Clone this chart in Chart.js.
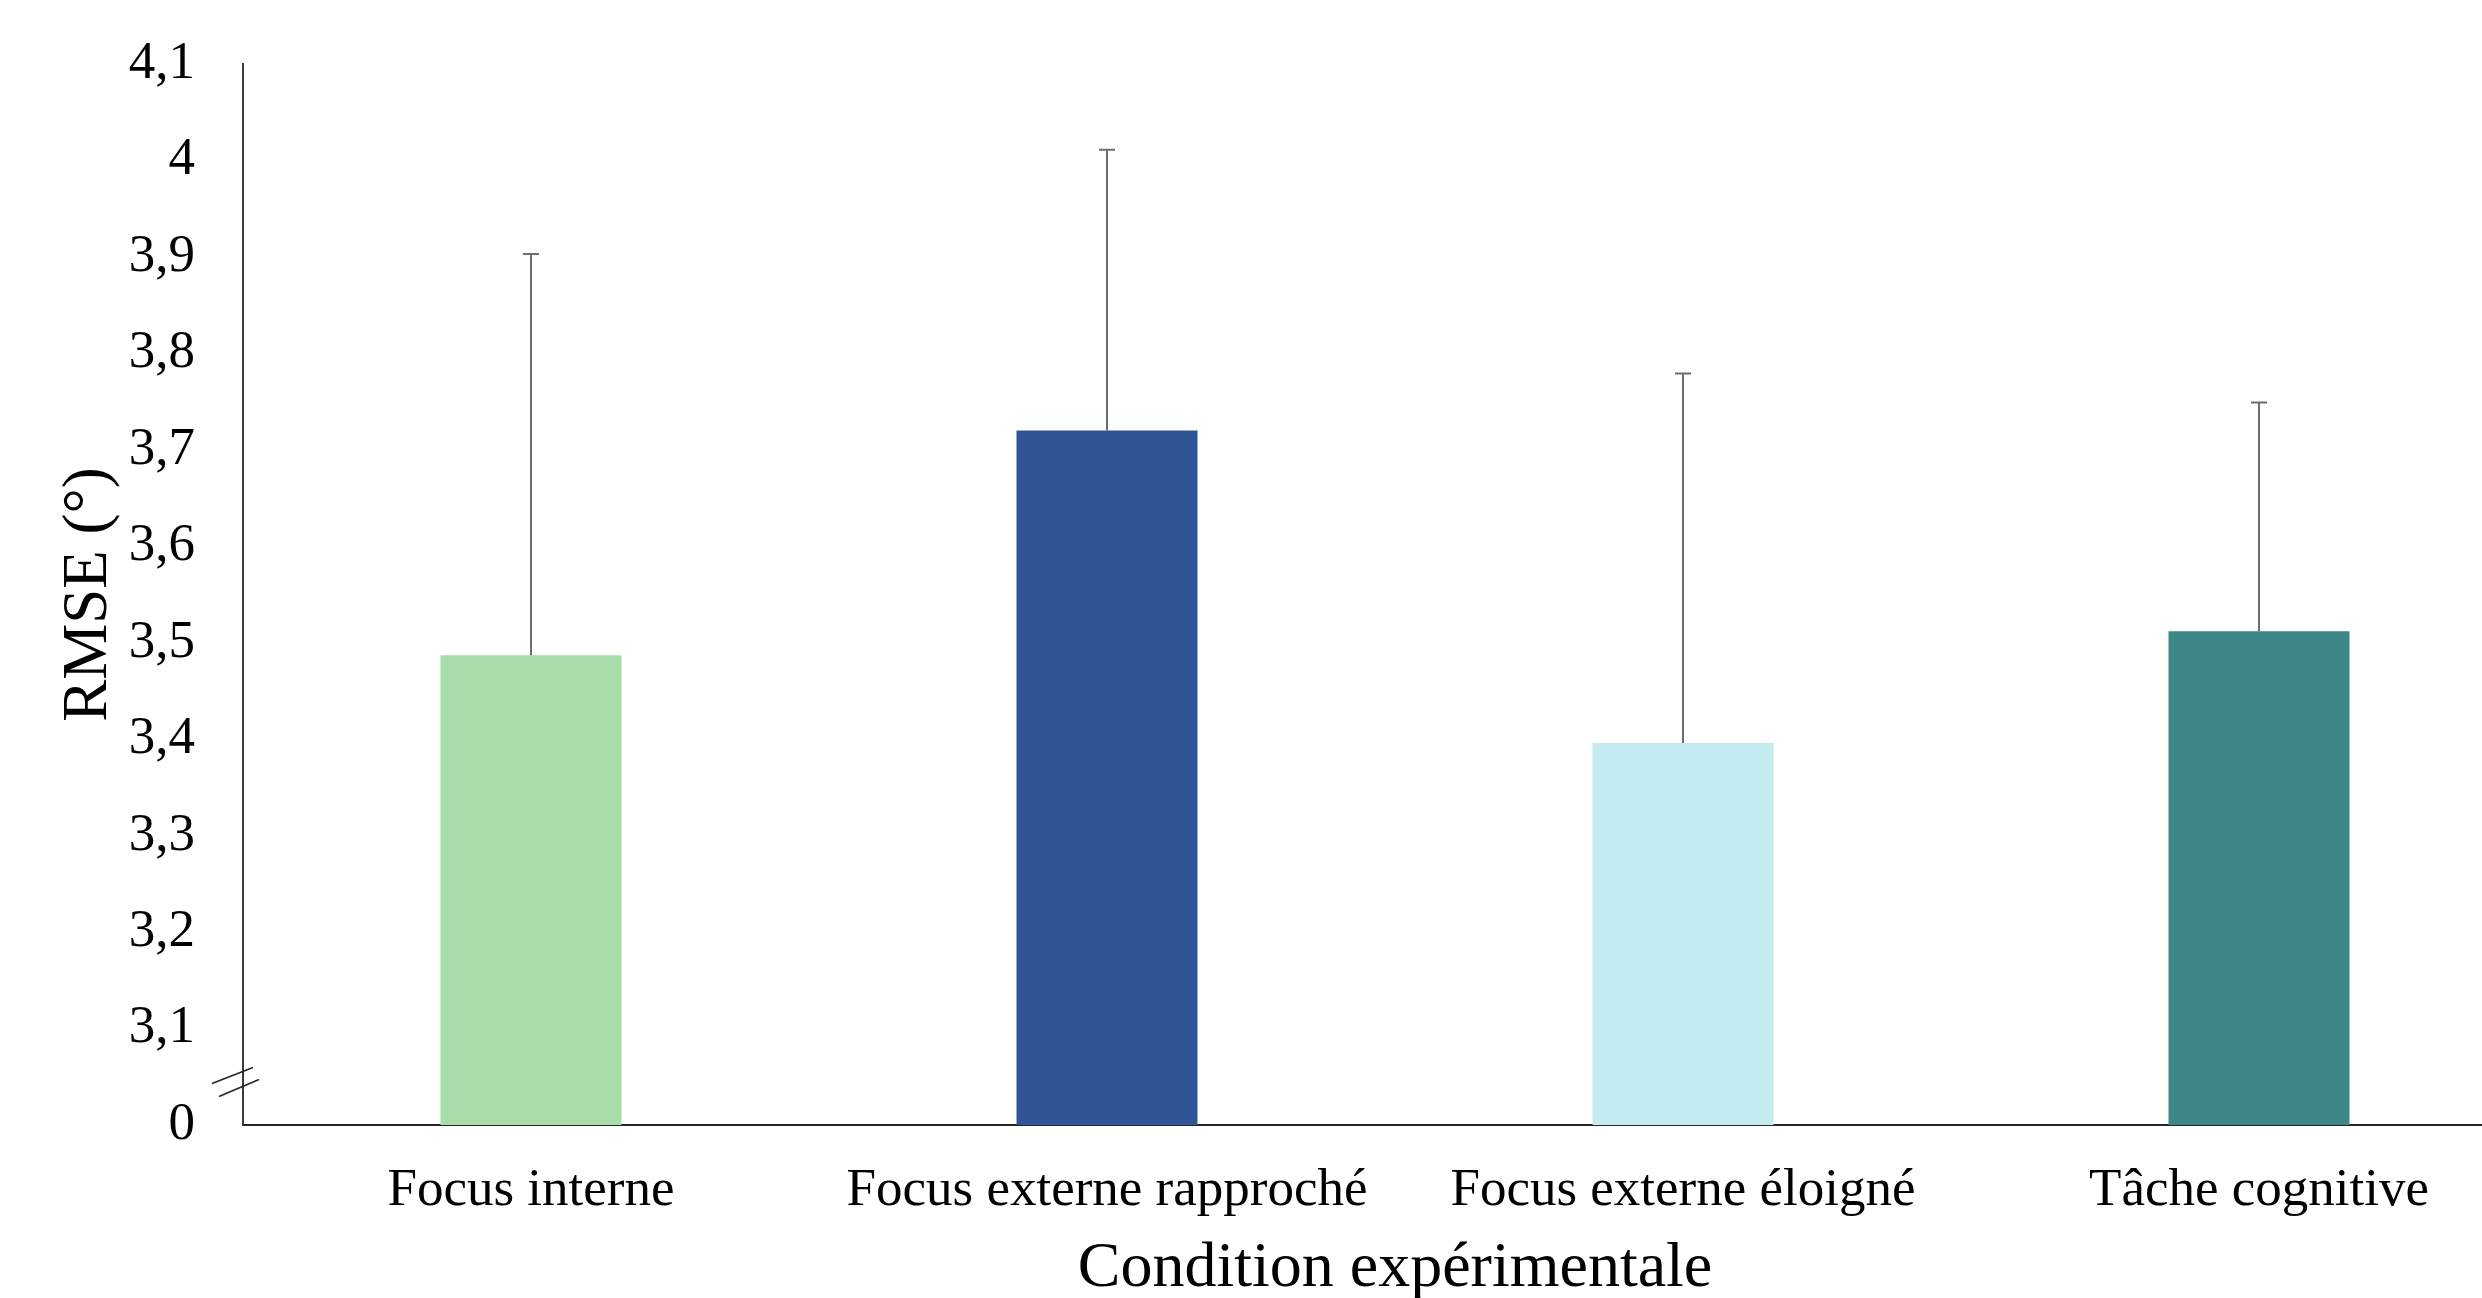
<!DOCTYPE html>
<html lang="fr">
<head>
<meta charset="utf-8">
<title>RMSE par condition expérimentale</title>
<script src="https://cdn.jsdelivr.net/npm/chart.js@4.4.1/dist/chart.umd.min.js"></script>
<style>
  html, body { margin: 0; padding: 0; background: #ffffff; overflow: hidden; }
  #wrap { width: 2600px; height: 1298px; }
</style>
</head>
<body>
<div id="wrap"><canvas id="chart" width="2600" height="1298"></canvas></div>
<script>
// Conditions and mean RMSE (degrees)
const categories = ['Focus interne', 'Focus externe rapproché', 'Focus externe éloigné', 'Tâche cognitive'];
const meanRmse = [3.487, 3.72, 3.396, 3.512];
// Upper error bar ends (mean + SD)
const errorTop = [3.903, 4.011, 3.779, 3.749];
const barColors = ['#A8DDA9', '#2F5597', '#C4EBEF', '#3D8788'];

// Broken value axis: the bottom tick stands for 0, the rest run from 3,1 to 4,1
const yTickValues = [3.0, 3.1, 3.2, 3.3, 3.4, 3.5, 3.6, 3.7, 3.8, 3.9, 4.0, 4.1];
const yTickLabels = ['0', '3,1', '3,2', '3,3', '3,4', '3,5', '3,6', '3,7', '3,8', '3,9', '4', '4,1'];
const axisBreakValue = 3.045;

const serif = "'Liberation Serif', 'Times New Roman', serif";

// Upward error bars with a short cap
const errorBarPlugin = {
  id: 'errorBars',
  afterDatasetsDraw(chart) {
    const { ctx } = chart;
    const meta = chart.getDatasetMeta(0);
    const yScale = chart.scales.y;
    ctx.save();
    ctx.strokeStyle = '#6E6E6E';
    ctx.lineWidth = 2;
    meta.data.forEach((bar, i) => {
      const x = bar.x;
      const yBase = yScale.getPixelForValue(meanRmse[i]);
      const yTop = yScale.getPixelForValue(errorTop[i]);
      ctx.beginPath();
      ctx.moveTo(x, yBase);
      ctx.lineTo(x, yTop);
      ctx.moveTo(x - 8, yTop);
      ctx.lineTo(x + 8, yTop);
      ctx.stroke();
    });
    ctx.restore();
  }
};

// Double slash marking the break on the value axis
const axisBreakPlugin = {
  id: 'axisBreak',
  afterDraw(chart) {
    const { ctx, chartArea } = chart;
    const y = chart.scales.y.getPixelForValue(axisBreakValue);
    const x = chartArea.left;
    ctx.save();
    ctx.strokeStyle = '#262626';
    ctx.lineWidth = 1.6;
    ctx.beginPath();
    ctx.moveTo(x - 31, y + 2);
    ctx.lineTo(x + 10, y - 14);
    ctx.moveTo(x - 24, y + 15);
    ctx.lineTo(x + 16, y - 2);
    ctx.stroke();
    ctx.restore();
  }
};

new Chart(document.getElementById('chart'), {
  type: 'bar',
  data: {
    labels: categories,
    datasets: [{
      data: meanRmse,
      backgroundColor: barColors,
      borderWidth: 0,
      categoryPercentage: 1,
      barPercentage: 0.3142
    }]
  },
  options: {
    responsive: false,
    animation: false,
    layout: { padding: { top: 64, right: 53, bottom: 0, left: 0 } },
    plugins: {
      legend: { display: false },
      tooltip: { enabled: false }
    },
    scales: {
      x: {
        grid: { display: false, drawTicks: false },
        border: { display: true, color: '#262626', width: 2 },
        ticks: {
          color: '#000000',
          padding: 34,
          maxRotation: 0,
          autoSkip: false,
          font: { family: serif, size: 53 }
        },
        title: {
          display: true,
          text: 'Condition expérimentale',
          color: '#000000',
          font: { family: serif, size: 64, lineHeight: 0.9 },
          padding: { top: 0, bottom: 0 }
        },
        afterFit(scale) { scale.height = 173; }
      },
      y: {
        min: 3.0,
        max: 4.1,
        grid: { display: false, drawTicks: false },
        border: { display: true, color: '#3A3A3A', width: 2 },
        afterBuildTicks(scale) {
          scale.ticks = yTickValues.map(v => ({ value: v }));
        },
        ticks: {
          color: '#000000',
          padding: 48,
          font: { family: serif, size: 53 },
          callback: (value, index) => yTickLabels[index]
        },
        title: {
          display: true,
          text: 'RMSE (°)',
          color: '#000000',
          font: { family: serif, size: 63, lineHeight: 1 },
          padding: { top: 58, bottom: 58 }
        },
        afterFit(scale) {
          scale.width = 243;
          scale.paddingTop = 0;
          scale.paddingBottom = 0;
        }
      }
    }
  },
  plugins: [errorBarPlugin, axisBreakPlugin]
});
</script>
</body>
</html>
